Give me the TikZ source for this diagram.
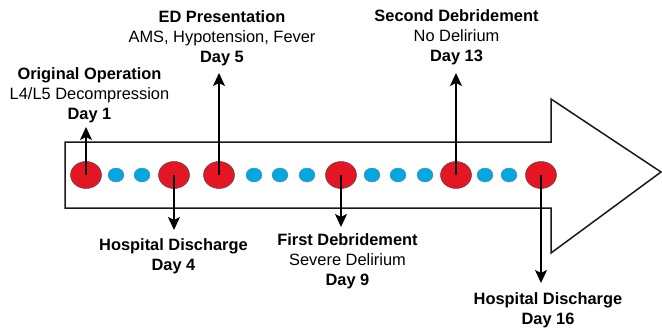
\documentclass[tikz,border=0pt]{standalone}
\usepackage{fontspec}
\setmainfont{Liberation Sans}
\usetikzlibrary{arrows.meta,shapes.geometric}
\definecolor{evred}{RGB}{228,22,36}
\definecolor{gapblue}{RGB}{0,168,228}
\tikzset{
  bigdot/.style={ellipse, draw=black!70, line width=0.5pt, fill=evred, minimum width=31pt, minimum height=27pt, inner sep=0pt},
  smalldot/.style={ellipse, draw=black!50, line width=0.4pt, fill=gapblue, minimum width=16pt, minimum height=14pt, inner sep=0pt},
  caption/.style={align=center, inner sep=0pt, font=\fontsize{16.4}{20}\selectfont},
  pointer/.style={line width=1.4pt, -{Stealth[length=13pt,width=12pt,inset=3pt]}},
  body/.style={line width=1.5pt, draw=black!90, line join=miter}
}
\begin{document}
\begin{tikzpicture}[x=1pt,y=-1pt]
\useasboundingbox (0,0) rectangle (662,327);
% timeline arrow outline
\draw[body] (65,142) -- (551,142) -- (551,99) -- (661,172) -- (551,253) -- (551,208) -- (65,208) -- cycle;
% events (red) and days in between (blue)
\node[bigdot] (d1) at (86,175) {};
\node[smalldot] (g1) at (116,175) {};
\node[smalldot] (g2) at (142,175) {};
\node[bigdot] (d4) at (174,175) {};
\node[bigdot] (d5) at (219,175) {};
\node[smalldot] (g3) at (254,175) {};
\node[smalldot] (g4) at (280,175) {};
\node[smalldot] (g5) at (307,175) {};
\node[bigdot] (d9) at (341,175) {};
\node[smalldot] (g6) at (372,175) {};
\node[smalldot] (g7) at (398,175) {};
\node[smalldot] (g8) at (425,175) {};
\node[bigdot] (d13) at (456,175) {};
\node[smalldot] (g9) at (485,175) {};
\node[smalldot] (g10) at (509,175) {};
\node[bigdot] (d16) at (541,175) {};
% event captions
\node[caption, anchor=south] (t1) at (89.5,123) {\textbf{Original Operation}\\L4/L5 Decompression\\\textbf{Day 1}};
\node[caption, anchor=south] (t5) at (222,66.5) {\textbf{ED Presentation}\\AMS, Hypotension, Fever\\\textbf{Day 5}};
\node[caption, anchor=south] (t13) at (456.5,65) {\textbf{Second Debridement}\\No Delirium\\\textbf{Day 13}};
\node[caption, anchor=north] (t4) at (173.5,238) {\textbf{Hospital Discharge}\\\textbf{Day 4}};
\node[caption, anchor=north] (t9) at (347.5,233.5) {\textbf{First Debridement}\\Severe Delirium\\\textbf{Day 9}};
\node[caption, anchor=north] (t16) at (548,292.5) {\textbf{Hospital Discharge}\\\textbf{Day 16}};
% pointers from events to captions
\draw[pointer, shorten >=4pt] (d1.center) -- (d1.center |- t1.south);
\draw[pointer, shorten >=6.5pt] (d5.center) -- (d5.center |- t5.south);
\draw[pointer, shorten >=8pt] (d13.center) -- (d13.center |- t13.south);
\draw[pointer, shorten >=8pt] (d4.center) -- (d4.center |- t4.north);
\draw[pointer, shorten >=6.5pt] (d9.center) -- (d9.center |- t9.north);
\draw[pointer, shorten >=9.5pt] (d16.center) -- (d16.center |- t16.north);
\end{tikzpicture}
\end{document}
